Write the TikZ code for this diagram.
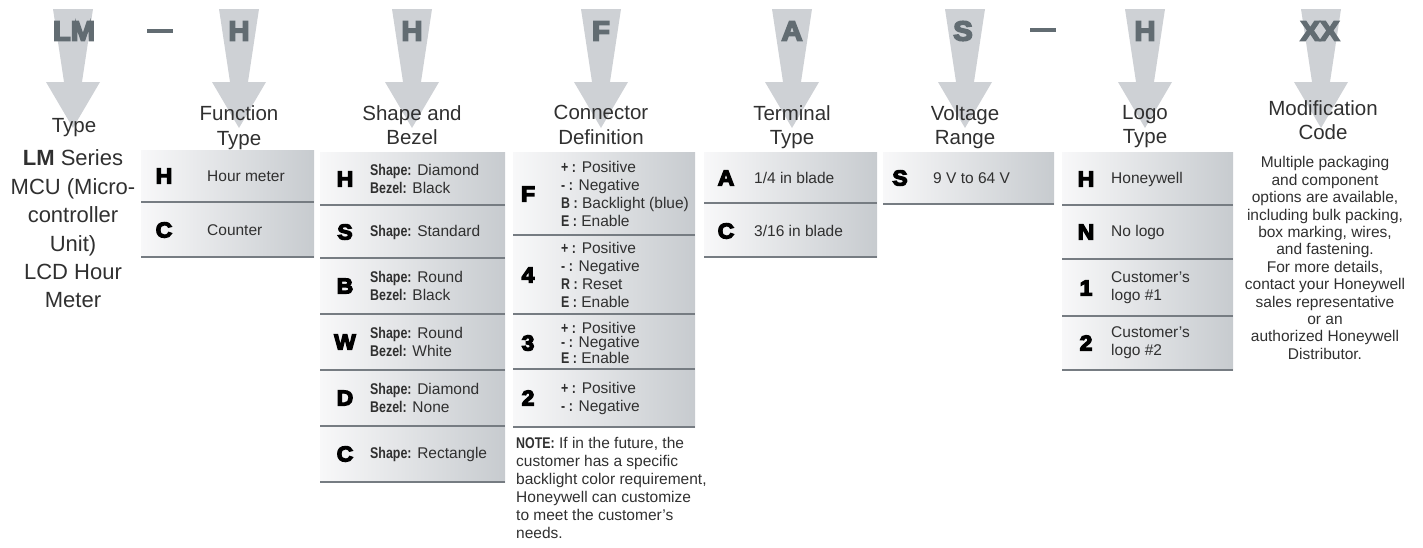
\documentclass[tikz,border=0pt]{standalone}
\usepackage{fontspec}
\setmainfont{Liberation Sans}
\newfontfamily\heavyfont{Liberation Sans Bold}[FakeBold=6, FakeStretch=1.06]
\newfontfamily\condfont{Liberation Sans Bold}[FakeStretch=0.8]
\newcommand{\bd}[1]{{\condfont #1}}

\definecolor{arrowgray}{RGB}{206,209,213}
\definecolor{codegray}{RGB}{98,108,114}
\definecolor{rulegray}{RGB}{118,124,130}
\definecolor{cellleft}{RGB}{248,248,249}
\definecolor{cellright}{RGB}{199,203,207}
\definecolor{txt}{RGB}{48,48,48}

\tikzset{
  topcode/.style={font=\heavyfont\fontsize{27.5}{27.5}\selectfont, text=codegray, inner sep=0},
  title/.style={font=\fontsize{20.5}{24.5}\selectfont, align=center, text=txt, inner sep=0, anchor=north},
  cellcode/.style={font=\heavyfont\fontsize{21.5}{21.5}\selectfont, inner sep=0},
  celltext/.style={font=\fontsize{15.5}{18}\selectfont, align=left, anchor=west, inner sep=0, text=txt},
  tablebg/.style={left color=cellleft, right color=cellright},
  rowrule/.style={draw=rulegray, line width=1.6pt},
}

\begin{document}
\begin{tikzpicture}[x=1pt, y=-1pt]
    \useasboundingbox (0,0) rectangle (1423,547);

    % Down arrows behind the code letters
    \foreach \cx in {73,239,412,601,792,965,1145,1321}
        \fill[arrowgray] (\cx-20,9) -- (\cx+20,9) -- (\cx+9,82) -- (\cx+27,82)
            -- (\cx,128) -- (\cx-27,82) -- (\cx-9,82) -- cycle;

    % Code letters
    \node[topcode] (cLM) at (74,31) {LM};
    \node[topcode] (cF1) at (239,31) {H};
    \node[topcode] (cSB) at (412,31) {H};
    \node[topcode] (cCD) at (601,31) {F};
    \node[topcode] (cTT) at (792,31) {A};
    \node[topcode] (cVR) at (963,31) {S};
    \node[topcode] (cLT) at (1145,31) {H};
    \node[topcode] (cMC) at (1320,31) {XX};
    \draw[codegray, line width=4.5pt] (147,31) -- (173,31);
    \draw[codegray, line width=4.5pt] (1030,30) -- (1056,30);

    % Titles
    \node[title] (tType) at (74,118.5) {Type};
    \node[title] (tFunc) at (239,105.5) {Function\\Type};
    \node[title] (tShape) at (412,105) {Shape and\\Bezel};
    \node[title] (tConn) at (601,105) {Connector\\Definition};
    \node[title] (tTerm) at (792,105) {Terminal\\Type};
    \node[title] (tVolt) at (965,105) {Voltage\\Range};
    \node[title] (tLogo) at (1145,105) {Logo\\Type};
    \node[title] (tMod) at (1323,100) {Modification\\Code};

    % Type
    \node[font=\fontsize{22}{28.4}\selectfont, align=center, text=txt] (typeDesc) at (73,229)
        {{\bfseries LM} Series\\MCU (Micro-\\controller\\Unit)\\LCD Hour\\Meter};

    % Function type
    \shade[tablebg] (141,150) rectangle (314,257);
    \foreach \y in {202,257} \draw[rowrule] (141,\y) -- (314,\y);
    \node[cellcode] (fH) at (164,176) {H};
    \node[celltext] (fHt) at (207,176) {Hour meter};
    \node[cellcode] (fC) at (164,230) {C};
    \node[celltext] (fCt) at (207,230) {Counter};

    % Shape and bezel
    \shade[tablebg] (320,152) rectangle (505,482);
    \foreach \y in {205,258,314,370,426,482} \draw[rowrule] (320,\y) -- (505,\y);
    \node[cellcode] (sH) at (345,179) {H};
    \node[celltext] (sHt) at (370,179) {\bd{Shape:} Diamond\\\bd{Bezel:} Black};
    \node[cellcode] (sS) at (345,232) {S};
    \node[celltext] (sSt) at (370,232) {\bd{Shape:} Standard};
    \node[cellcode] (sB) at (345,286) {B};
    \node[celltext] (sBt) at (370,286) {\bd{Shape:} Round\\\bd{Bezel:} Black};
    \node[cellcode] (sW) at (345,342) {W};
    \node[celltext] (sWt) at (370,342) {\bd{Shape:} Round\\\bd{Bezel:} White};
    \node[cellcode] (sD) at (345,398) {D};
    \node[celltext] (sDt) at (370,398) {\bd{Shape:} Diamond\\\bd{Bezel:} None};
    \node[cellcode] (sC) at (345,454) {C};
    \node[celltext] (sCt) at (370,454) {\bd{Shape:} Rectangle};

    % Connector definition
    \shade[tablebg] (513,152) rectangle (695,427);
    \foreach \y in {235,314,369,427} \draw[rowrule] (513,\y) -- (695,\y);
    \node[cellcode] (cnF) at (528,194) {F};
    \node[celltext] (cnFt) at (561,194)
        {\bd{+ :} Positive\\\bd{- :} Negative\\\bd{B :} Backlight (blue)\\\bd{E :} Enable};
    \node[cellcode] (cn4) at (528,275) {4};
    \node[celltext] (cn4t) at (561,275)
        {\bd{+ :} Positive\\\bd{- :} Negative\\\bd{R :} Reset\\\bd{E :} Enable};
    \node[cellcode] (cn3) at (528,343) {3};
    \node[celltext, font=\fontsize{15.5}{14.2}\selectfont] (cn3t) at (561,343)
        {\bd{+ :} Positive\\\bd{- :} Negative\\\bd{E :} Enable};
    \node[cellcode] (cn2) at (528,398) {2};
    \node[celltext] (cn2t) at (561,398) {\bd{+ :} Positive\\\bd{- :} Negative};
    \node[celltext, anchor=north west] (note) at (516,437)
        {\bd{NOTE:} If in the future, the\\customer has a specific\\backlight color requirement,\\Honeywell can customize\\to meet the customer’s\\needs.};

    % Terminal type
    \shade[tablebg] (704,152) rectangle (877,257);
    \foreach \y in {203,257} \draw[rowrule] (704,\y) -- (877,\y);
    \node[cellcode] (tA) at (726,178) {A};
    \node[celltext] (tAt) at (754,178) {1/4 in blade};
    \node[cellcode] (tC) at (726,231) {C};
    \node[celltext] (tCt) at (754,231) {3/16 in blade};

    % Voltage range
    \shade[tablebg] (883,152) rectangle (1054,204);
    \draw[rowrule] (883,204) -- (1054,204);
    \node[cellcode] (vS) at (900,178) {S};
    \node[celltext] (vSt) at (933,178) {9 V to 64 V};

    % Logo type
    \shade[tablebg] (1062,152) rectangle (1233,370);
    \foreach \y in {205,259,316,370} \draw[rowrule] (1062,\y) -- (1233,\y);
    \node[cellcode] (lH) at (1086,179) {H};
    \node[celltext] (lHt) at (1111,179) {Honeywell};
    \node[cellcode] (lN) at (1086,232) {N};
    \node[celltext] (lNt) at (1111,232) {No logo};
    \node[cellcode] (l1) at (1086,288) {1};
    \node[celltext] (l1t) at (1111,288) {Customer’s\\logo \#1};
    \node[cellcode] (l2) at (1086,343) {2};
    \node[celltext] (l2t) at (1111,343) {Customer’s\\logo \#2};

    % Modification code
    \node[font=\fontsize{15.5}{17.4}\selectfont, align=center, text=txt, inner sep=0] (modDesc) at (1325,258)
        {Multiple packaging\\and component\\options are available,\\including bulk packing,\\box marking, wires,\\and fastening.\\For more details,\\contact your Honeywell\\sales representative\\or an\\authorized Honeywell\\Distributor.};
\end{tikzpicture}
\end{document}
